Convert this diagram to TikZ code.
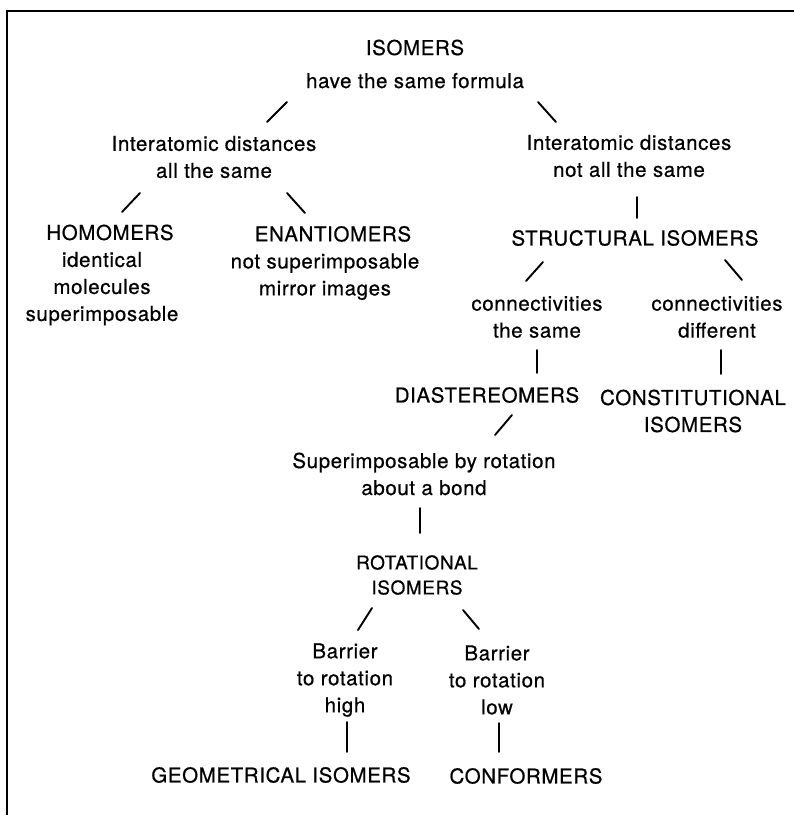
\documentclass[tikz,border=0pt]{standalone}
\usepackage{fontspec}
\setmainfont[LetterSpace=3,FakeBold=0.6]{TeX Gyre Heros}
\begin{document}
\begin{tikzpicture}[x=1pt,y=-1pt,
  lbl/.style={inner sep=0pt, align=center, font=\fontsize{20.5}{27}\selectfont},
  smalllbl/.style={inner sep=0pt, align=center, font=\fontsize{19}{25}\selectfont},
  link/.style={line width=1.9pt, line cap=round},
  frame/.style={line width=2pt}]
\useasboundingbox (0,0) rectangle (794,817);
\draw[frame] (7,815) -- (7,11) -- (794,11);

\node[lbl] (root) at (415,64) {ISOMERS\\[6pt]have the same formula};
\node[lbl] (same) at (214,157) {Interatomic distances\\all the same};
\node[lbl] (notsame) at (629,156) {Interatomic distances\\not all the same};
\node[lbl] (homo) at (102,275) {\hspace*{16pt}HOMOMERS\\identical\hspace*{18pt}\\molecules\\superimposable};
\node[lbl] (enan) at (325,263) {\hspace*{16pt}ENANTIOMERS\\not superimposable\hspace*{12pt}\\mirror images};
\node[lbl] (struct) at (635,238) {STRUCTURAL ISOMERS};
\node[lbl] (csame) at (537,317) {connectivities\\the same};
\node[lbl] (cdiff) at (717,317) {connectivities\\different};
\node[lbl] (dia) at (487,395) {DIASTEREOMERS};
\node[lbl] (const) at (693,411) {CONSTITUTIONAL\\ISOMERS};
\node[lbl] (super) at (424,474) {Superimposable by rotation\\about a bond};
\node[smalllbl] (rot) at (417,575) {ROTATIONAL\\ISOMERS};
\node[lbl] (high) at (345,680) {Barrier\\to rotation\\high};
\node[lbl] (low) at (497,680) {Barrier\\to rotation\\low};
\node[lbl] (geom) at (281,775) {GEOMETRICAL ISOMERS};
\node[lbl] (conf) at (526,776) {CONFORMERS};

\coordinate (r1a) at (287,102); \coordinate (r1b) at (267,122);
\coordinate (r2a) at (538,102); \coordinate (r2b) at (556,122);
\coordinate (s1a) at (140,193); \coordinate (s1b) at (122,212);
\coordinate (s2a) at (287,193); \coordinate (s2b) at (305,213);
\coordinate (n1a) at (637,197); \coordinate (n1b) at (637,218);
\coordinate (t1a) at (543,262); \coordinate (t1b) at (526,281);
\coordinate (t2a) at (725,260); \coordinate (t2b) at (742,280);
\coordinate (c1a) at (537,350); \coordinate (c1b) at (537,373);
\coordinate (c2a) at (721,350); \coordinate (c2b) at (721,374);
\coordinate (d1a) at (512,415); \coordinate (d1b) at (495,435);
\coordinate (p1a) at (420,508); \coordinate (p1b) at (420,533);
\coordinate (o1a) at (372,608); \coordinate (o1b) at (358,630);
\coordinate (o2a) at (463,610); \coordinate (o2b) at (479,629);
\coordinate (h1a) at (347,722); \coordinate (h1b) at (347,752);
\coordinate (l1a) at (499,723); \coordinate (l1b) at (499,752);

\draw[link] (r1a) -- (r1b);
\draw[link] (r2a) -- (r2b);
\draw[link] (s1a) -- (s1b);
\draw[link] (s2a) -- (s2b);
\draw[link] (n1a) -- (n1b);
\draw[link] (t1a) -- (t1b);
\draw[link] (t2a) -- (t2b);
\draw[link] (c1a) -- (c1b);
\draw[link] (c2a) -- (c2b);
\draw[link] (d1a) -- (d1b);
\draw[link] (p1a) -- (p1b);
\draw[link] (o1a) -- (o1b);
\draw[link] (o2a) -- (o2b);
\draw[link] (h1a) -- (h1b);
\draw[link] (l1a) -- (l1b);
\end{tikzpicture}
\end{document}
